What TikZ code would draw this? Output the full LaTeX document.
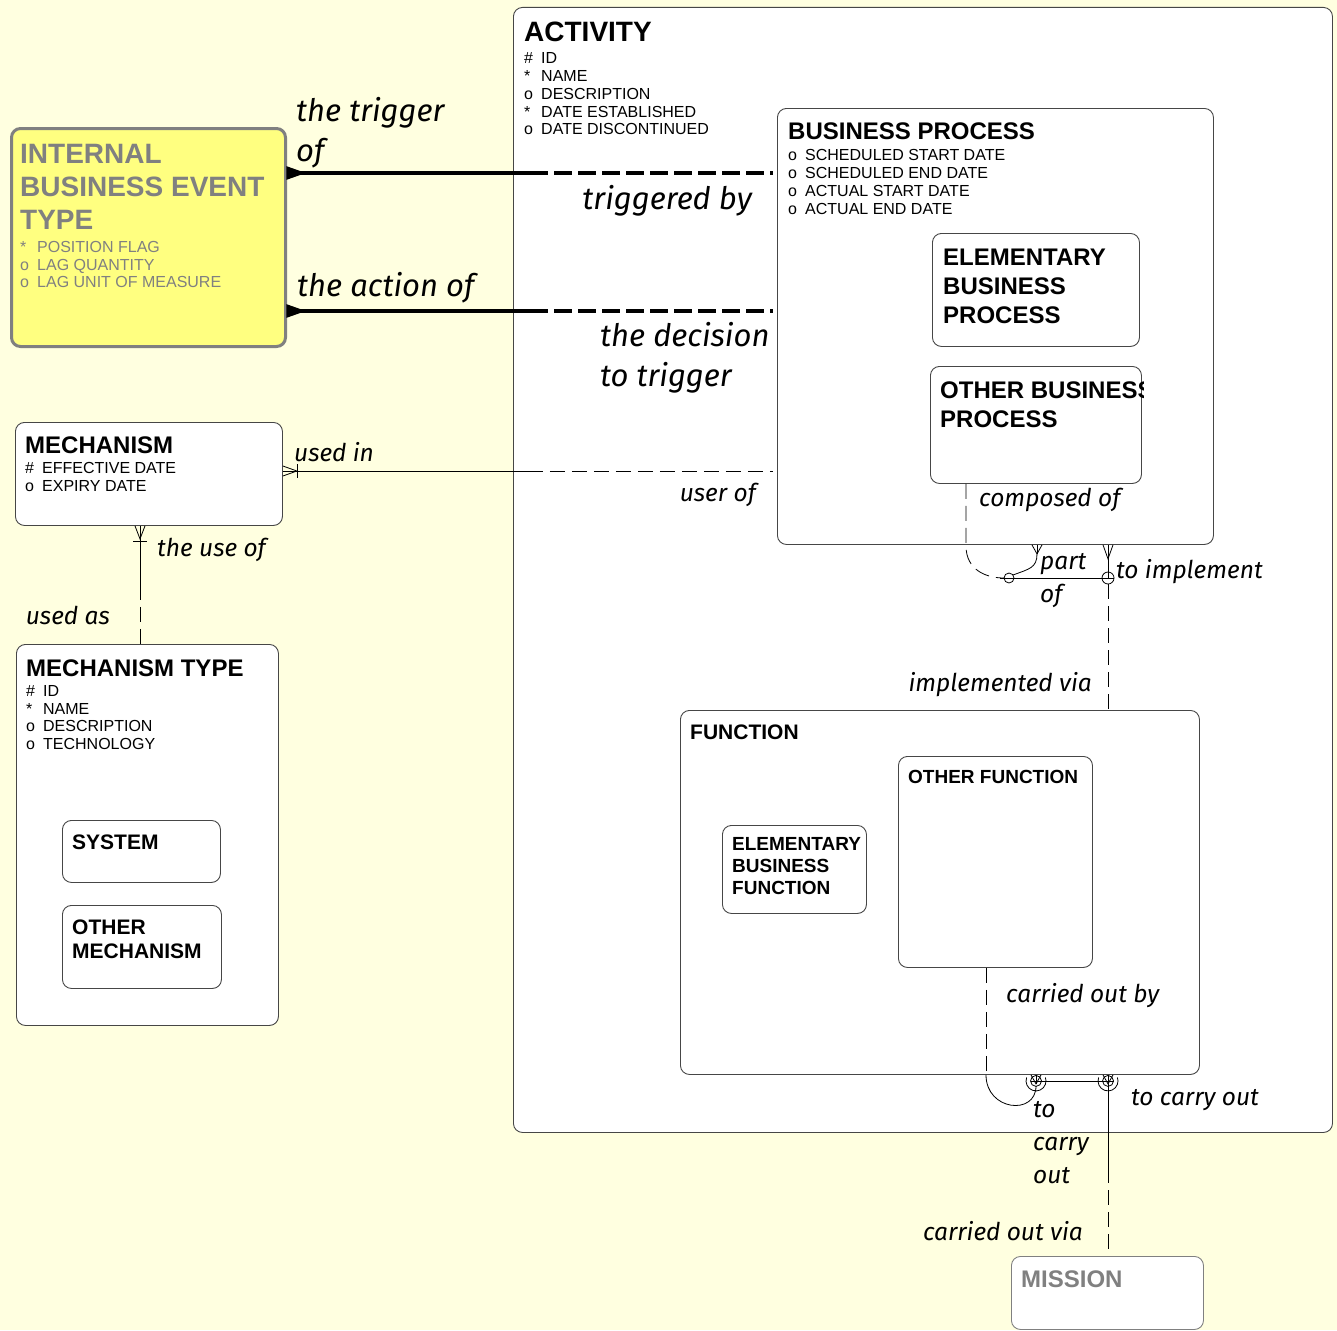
\documentclass[tikz,border=0pt]{standalone}
\usepackage{fontspec}
\setmainfont{Liberation Sans}
\newfontfamily\labfont{Fira Sans}
\usetikzlibrary{calc}
\definecolor{paper}{RGB}{255,255,224}
\definecolor{eventfill}{RGB}{255,255,128}
\definecolor{greyed}{RGB}{128,128,128}
\definecolor{boxline}{RGB}{70,70,70}
\newcommand{\att}[2]{\makebox[17pt][l]{#1}#2}
\tikzset{
  ent/.style={draw=boxline, fill=white, rounded corners=9pt, line width=0.9pt, inner sep=0pt, anchor=north west},
  ttl/.style={font=\bfseries\fontsize{24}{29}\selectfont, anchor=north west, inner sep=0pt, align=left},
  atts/.style={font=\fontsize{16}{17.8}\selectfont, anchor=north west, inner sep=0pt, align=left},
  lab/.style={font=\labfont\itshape\fontsize{24.5}{33}\selectfont, inner sep=0pt, align=left},
  biglab/.style={font=\labfont\itshape\fontsize{31}{40}\selectfont, inner sep=0pt, align=left},
  rel/.style={line width=0.8pt},
  relbold/.style={line width=3.5pt},
  dsh/.style={dash pattern=on 15pt off 7pt},
  dshbold/.style={dash pattern=on 18pt off 6pt},
}
\begin{document}
\begin{tikzpicture}[x=1pt,y=-1pt]
\useasboundingbox (0,0) rectangle (1337,1330);
\fill[paper] (0,0) rectangle (1337,1330);

% ACTIVITY and its subtypes
\node[ent, minimum width=819pt, minimum height=1125pt] (activity) at (513,7) {};
\node[ttl, font=\bfseries\fontsize{28}{33}\selectfont] (activityttl) at (524,22) {ACTIVITY};
\node[atts] (activityatt) at (524,52.5) {\att{\#}{ID}\\\att{*}{NAME}\\\att{o}{DESCRIPTION}\\\att{*}{DATE ESTABLISHED}\\\att{o}{DATE DISCONTINUED}};

\node[ent, minimum width=436pt, minimum height=436pt] (bp) at (777,108) {};
\node[ttl] (bpttl) at (788,122.5) {BUSINESS PROCESS};
\node[atts, font=\fontsize{16}{18}\selectfont] (bpatt) at (788,149.5) {\att{o}{SCHEDULED START DATE}\\\att{o}{SCHEDULED END DATE}\\\att{o}{ACTUAL START DATE}\\\att{o}{ACTUAL END DATE}};

\node[ent, minimum width=207pt, minimum height=113pt] (ebp) at (932,233) {};
\node[ttl] (ebpttl) at (943,248.5) {ELEMENTARY\\BUSINESS\\PROCESS};

\node[ent, minimum width=211pt, minimum height=117pt] (obp) at (930,366) {};
\begin{scope}
  \clip (930,366) rectangle (1143,483);
  \node[ttl] (obpttl) at (940,381.5) {OTHER BUSINESS\\PROCESS};
\end{scope}

\node[ent, minimum width=519pt, minimum height=364pt] (func) at (680,710) {};
\node[ttl, font=\bfseries\fontsize{21}{25}\selectfont] (functtl) at (690,724.5) {FUNCTION};

\node[ent, minimum width=194pt, minimum height=211pt] (of) at (898,756) {};
\node[ttl, font=\bfseries\fontsize{19}{22}\selectfont] (ofttl) at (908,770) {OTHER FUNCTION};

\node[ent, minimum width=144pt, minimum height=88pt] (ebf) at (722,825) {};
\node[ttl, font=\bfseries\fontsize{19}{22}\selectfont] (ebfttl) at (732,837) {ELEMENTARY\\BUSINESS\\FUNCTION};

% left hand entities
\node[ent, fill=eventfill, draw=greyed, line width=3pt, minimum width=274pt, minimum height=218pt] (ibet) at (10,127) {};
\node[ttl, text=greyed, font=\bfseries\fontsize{28}{33}\selectfont] (ibetttl) at (20,144) {INTERNAL\\BUSINESS EVENT\\TYPE};
\node[atts, text=greyed] (ibetatt) at (20,241) {\att{*}{POSITION FLAG}\\\att{o}{LAG QUANTITY}\\\att{o}{LAG UNIT OF MEASURE}};

\node[ent, minimum width=267pt, minimum height=103pt] (mech) at (15,422) {};
\node[ttl] (mechttl) at (25,436.5) {MECHANISM};
\node[atts] (mechatt) at (25,462) {\att{\#}{EFFECTIVE DATE}\\\att{o}{EXPIRY DATE}};

\node[ent, minimum width=262pt, minimum height=381pt] (mt) at (16,644) {};
\node[ttl] (mtttl) at (26,659.5) {MECHANISM TYPE};
\node[atts] (mtatt) at (26,685) {\att{\#}{ID}\\\att{*}{NAME}\\\att{o}{DESCRIPTION}\\\att{o}{TECHNOLOGY}};

\node[ent, minimum width=158pt, minimum height=62pt] (sys) at (62,820) {};
\node[ttl, font=\bfseries\fontsize{21}{24}\selectfont] (systtl) at (72,834.5) {SYSTEM};

\node[ent, minimum width=159pt, minimum height=83pt] (om) at (62,905) {};
\node[ttl, font=\bfseries\fontsize{21}{24}\selectfont] (omttl) at (72,919.5) {OTHER\\MECHANISM};

\node[ent, draw=greyed, minimum width=192pt, minimum height=73pt] (mission) at (1011,1256) {};
\node[ttl, text=greyed] (missionttl) at (1021,1271) {MISSION};

% trigger relationship
\coordinate (trigL) at (ibet.east |- 0,173);
\coordinate (trigR) at ($(bp.west |- 0,173)+(-4,0)$);
\coordinate (trigM) at ($(trigL)!0.5!(trigR)$);
\draw[relbold] (trigL) -- (trigM);
\draw[relbold, dshbold] (trigM) -- (trigR);
\filldraw[line width=1.2pt] ($(trigL)+(0,-6)$) -- ($(trigL)+(17,0)$) -- ($(trigL)+(0,6)$) -- cycle;
\node[biglab, anchor=west] (triggerof) at (296,133) {the trigger\\of};
\node[biglab, anchor=east] (triggeredby) at (752,201) {triggered by};

% action relationship
\coordinate (actL) at (ibet.east |- 0,311);
\coordinate (actR) at ($(bp.west |- 0,311)+(-4,0)$);
\coordinate (actM) at ($(actL)!0.5!(actR)$);
\draw[relbold] (actL) -- (actM);
\draw[relbold, dshbold] (actM) -- (actR);
\filldraw[line width=1.2pt] ($(actL)+(0,-6)$) -- ($(actL)+(17,0)$) -- ($(actL)+(0,6)$) -- cycle;
\node[biglab, anchor=west] (actionof) at (297,288) {the action of};
\node[biglab, anchor=west] (decision) at (600,358) {the decision\\to trigger};

% mechanism used in business process
\coordinate (useL) at (mech.east |- 0,471);
\coordinate (useR) at ($(bp.west |- 0,471)+(-4,0)$);
\coordinate (useM) at ($(useL)!0.5!(useR)$);
\draw[rel] (useL) -- (useM);
\draw[rel, dsh] (useM) -- (useR);
\draw[rel] ($(useL)+(0,-5)$) -- ($(useL)+(14,0)$) -- ($(useL)+(0,5)$);
\draw[rel] ($(useL)+(14,-7)$) -- ($(useL)+(14,7)$);
\node[lab, anchor=west] (usedin) at (294,452) {used in};
\node[lab, anchor=east] (userof) at (756,495) {user of};

% mechanism type
\coordinate (mtU) at ($(mech.south west)+(125,0)$);
\coordinate (mtD) at (mtU |- mt.north);
\coordinate (mtM) at ($(mtU)!0.5!(mtD)$);
\draw[rel] (mtU) -- (mtM);
\draw[rel, dsh] (mtM) -- (mtD);
\draw[rel] ($(mtU)+(-5,0)$) -- ($(mtU)+(0,13)$) -- ($(mtU)+(5,0)$);
\draw[rel] ($(mtU)+(-7,15)$) -- ($(mtU)+(7,15)$);
\node[lab, anchor=west] (useof) at (157,550) {the use of};
\node[lab, anchor=east] (usedas) at (110,615) {used as};

% composition of business process
\coordinate (obpD) at ($(obp.south west)+(36,0)$);
\coordinate (obpK) at ($(obpD)+(0,62)$);
\coordinate (circA) at (1009,578);
\coordinate (bpFoot) at ($(bp.south west)+(260,0)$);
\draw[rel, dsh] (obpD) -- (obpK) .. controls +(0,24) and +(-18,0) .. ($(circA)+(-5,0)$);
\draw[rel] (circA) circle[radius=5];
\draw[rel] ($(circA)+(4,-3)$) .. controls +(16,-6) and +(0,14) .. ($(bpFoot)+(0,9)$);
\draw[rel] ($(bpFoot)+(-5,0)$) -- ($(bpFoot)+(0,9)$) -- ($(bpFoot)+(5,0)$);
\draw[rel] ($(bpFoot)+(0,9)$) -- (bpFoot);
\node[lab, anchor=west] (composedof) at (979,500) {composed of};
\node[lab, anchor=west] (partof) at (1040,581) {part\\of};

% business process implements function
\coordinate (bpImp) at ($(bp.south west)+(331,0)$);
\coordinate (circB) at (bpImp |- circA);
\coordinate (fnImp) at (bpImp |- func.north);
\draw[rel] ($(circA)+(-9,0)$) -- (circB);
\draw[rel] (bpImp) -- (circB);
\draw[rel] ($(bpImp)+(-5,0)$) -- ($(bpImp)+(0,14)$) -- ($(bpImp)+(5,0)$);
\draw[rel] (circB) circle[radius=6];
\draw[rel] ($(circB)+(-6,0)$) -- ($(circB)+(6,0)$);
\draw[rel, dsh] ($(circB)+(0,6)$) -- (fnImp);
\node[lab, anchor=west] (toimpl) at (1116,572) {to implement};
\node[lab, anchor=east] (implvia) at (1092,685) {implemented via};

% function carried out by
\coordinate (ofD) at ($(of.south west)+(88,0)$);
\coordinate (fnBot) at (ofD |- func.south);
\coordinate (circC) at ($(func.south west)+(356,6)$);
\coordinate (circD) at ($(func.south west)+(428,6)$);
\coordinate (msTop) at (circD |- mission.north);
\coordinate (msM) at ($(circD)!0.5!(msTop)$);
\draw[rel, dsh] (ofD) -- (fnBot);
\draw[rel] (fnBot) .. controls +(0,36) and +(0,30) .. ($(circC)+(0,5)$);
\draw[rel] (circC) -- (circD);
\draw[rel] (circC) circle[radius=5.5];
\draw[rel] ($(circC)+(-5.5,0)$) -- ($(circC)+(5.5,0)$);
\draw[rel] ($(circC)+(-5,-6)$) -- ($(circC)+(0,3)$) -- ($(circC)+(5,-6)$);
\draw[rel] ($(circC)+(0,-6)$) -- ($(circC)+(0,3)$);
\draw[rel] ($(circC)+(200:10)$) arc[start angle=200, end angle=-20, radius=10];
\draw[rel] (circD) circle[radius=5.5];
\draw[rel] ($(circD)+(-5.5,0)$) -- ($(circD)+(5.5,0)$);
\draw[rel] ($(circD)+(-5,-6)$) -- ($(circD)+(0,3)$) -- ($(circD)+(5,-6)$);
\draw[rel] ($(circD)+(0,-6)$) -- (msM);
\draw[rel] ($(circD)+(200:10)$) arc[start angle=200, end angle=-20, radius=10];
\draw[rel, dsh] (msM) -- (msTop);
\node[lab, anchor=west] (carriedby) at (1006,996) {carried out by};
\node[lab, anchor=west] (tocarry) at (1033,1143) {to\\carry\\out};
\node[lab, anchor=west] (tocarryout) at (1131,1100) {to carry out};
\node[lab, anchor=east] (carriedvia) at (1083,1231) {carried out via};
\end{tikzpicture}
\end{document}
